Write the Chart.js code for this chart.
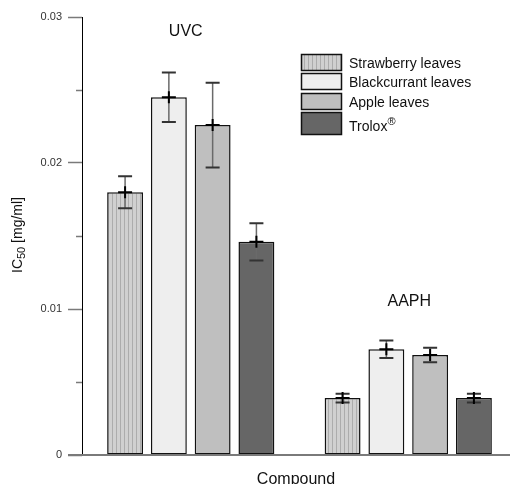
<!DOCTYPE html>
<html>
<head>
<meta charset="utf-8">
<script src="https://cdn.jsdelivr.net/npm/chart.js@4/dist/chart.umd.min.js"></script>
<style>
  html, body { margin: 0; padding: 0; background: #fff; }
  #wrap { width: 517px; height: 484px; position: relative; }
</style>
</head>
<body>
<div id="wrap"><canvas id="chart"></canvas></div>
<script>
// data
const categories = ['UVC', 'AAPH'];
const seriesNames = ['Strawberry leaves', 'Blackcurrant leaves', 'Apple leaves', 'Trolox®'];
const strawberry = [0.0180, 0.0039];
const blackcurrant = [0.0245, 0.00725];
const apple = [0.0226, 0.00685];
const trolox = [0.0146, 0.0039];
const strawberryErr = [0.0011, 0.0003];
const blackcurrantErr = [0.0017, 0.0006];
const appleErr = [0.0029, 0.0005];
const troloxErr = [0.00127, 0.0003];
const yTickLabels = ['0', '0.01', '0.02', '0.03'];

const FONT = '"Liberation Sans", Arial, sans-serif';

// striped fill for the strawberry bars
function stripes() {
  const c = document.createElement('canvas');
  c.width = 4; c.height = 1;
  const g = c.getContext('2d');
  g.fillStyle = '#d0d0d0';
  g.fillRect(0, 0, 4, 1);
  g.fillStyle = '#acacac';
  g.fillRect(0, 0, 1, 1);
  return g.createPattern(c, 'repeat');
}

const datasets = [
  { label: seriesNames[0], data: strawberry, err: strawberryErr, backgroundColor: stripes() },
  { label: seriesNames[1], data: blackcurrant, err: blackcurrantErr, backgroundColor: '#eeeeee' },
  { label: seriesNames[2], data: apple, err: appleErr, backgroundColor: '#bfbfbf' },
  { label: seriesNames[3], data: trolox, err: troloxErr, backgroundColor: '#666666' }
].map(d => Object.assign(d, {
  borderColor: '#111111',
  borderWidth: 1.5,
  borderSkipped: false,
  categoryPercentage: 0.805,
  barPercentage: 0.82
}));

const isMajor = v => Math.abs(v * 100 - Math.round(v * 100)) < 1e-6;

const extras = {
  id: 'extras',
  afterDatasetsDraw(chart) {
    const ctx = chart.ctx;
    const y = chart.scales.y;
    const x = chart.scales.x;
    ctx.save();

    // baseline (runs out past the y axis like the 0 tick)
    ctx.strokeStyle = '#7a7a7a';
    ctx.lineWidth = 2;
    ctx.beginPath();
    ctx.moveTo(68, y.getPixelForValue(0));
    ctx.lineTo(510, y.getPixelForValue(0));
    ctx.stroke();

    // minor ticks
    ctx.lineWidth = 1.5;
    for (let v = 0.005; v < 0.03; v += 0.01) {
      const py = Math.round(y.getPixelForValue(v)) + 0.5;
      ctx.beginPath();
      ctx.moveTo(76, py);
      ctx.lineTo(chart.chartArea.left, py);
      ctx.stroke();
    }

    // error bars
    chart.data.datasets.forEach((ds, i) => {
      const meta = chart.getDatasetMeta(i);
      meta.data.forEach((bar, j) => {
        const v = ds.data[j], e = ds.err[j];
        const top = y.getPixelForValue(v + e);
        const bot = y.getPixelForValue(v - e);
        const mid = y.getPixelForValue(v);
        ctx.strokeStyle = '#6a6a6a';
        ctx.lineWidth = 1.5;
        ctx.beginPath();
        ctx.moveTo(bar.x, top);
        ctx.lineTo(bar.x, bot);
        ctx.stroke();
        ctx.strokeStyle = '#333';
        ctx.lineWidth = 2;
        ctx.beginPath();
        ctx.moveTo(bar.x - 7, top); ctx.lineTo(bar.x + 7, top);
        ctx.moveTo(bar.x - 7, bot); ctx.lineTo(bar.x + 7, bot);
        ctx.stroke();
        ctx.strokeStyle = '#000';
        ctx.lineWidth = 2;
        ctx.beginPath();
        ctx.moveTo(bar.x, mid - 6); ctx.lineTo(bar.x, mid + 6);
        ctx.moveTo(bar.x - 7, mid); ctx.lineTo(bar.x + 7, mid);
        ctx.stroke();
      });
    });

    // group labels
    ctx.fillStyle = '#111';
    ctx.font = '16px ' + FONT;
    ctx.textAlign = 'center';
    ctx.textBaseline = 'alphabetic';
    ctx.fillText(categories[0], x.getPixelForValue(0) - 5, y.getPixelForValue(0.0287));
    ctx.fillText(categories[1], x.getPixelForValue(1) + 1, y.getPixelForValue(0.0102));

    // x title
    ctx.fillText('Compound', (chart.chartArea.left + 510) / 2, 484);

    // y title with subscript
    ctx.save();
    ctx.translate(22, 235);
    ctx.rotate(-Math.PI / 2);
    ctx.textAlign = 'left';
    ctx.font = '14px ' + FONT;
    const w1 = ctx.measureText('IC').width;
    const w3 = ctx.measureText(' [mg/ml]').width;
    ctx.font = '11px ' + FONT;
    const w2 = ctx.measureText('50').width;
    const sx = -(w1 + w2 + w3) / 2;
    ctx.font = '14px ' + FONT;
    ctx.fillText('IC', sx, 0);
    ctx.font = '11px ' + FONT;
    ctx.fillText('50', sx + w1, 3);
    ctx.font = '14px ' + FONT;
    ctx.fillText(' [mg/ml]', sx + w1 + w2, 0);
    ctx.restore();

    // legend
    const rows = [[54, 16], [73, 16], [93, 16], [112, 22]];
    chart.data.datasets.forEach((ds, i) => {
      const [t, h] = rows[i];
      ctx.fillStyle = ds.backgroundColor;
      ctx.fillRect(301, t, 41, h);
      ctx.strokeStyle = '#111';
      ctx.lineWidth = 1.5;
      ctx.strokeRect(301.5, t + 0.5, 40, h);
      ctx.fillStyle = '#111';
      ctx.textAlign = 'left';
      ctx.textBaseline = 'alphabetic';
      ctx.font = '14px ' + FONT;
      let label = ds.label;
      let sup = '';
      if (label.endsWith('®')) { sup = '®'; label = label.slice(0, -1); }
      const base = t + h / 2 + 5.5;
      ctx.fillText(label, 349, sup ? base + 2 : base);
      if (sup) {
        const lw = ctx.measureText(label).width;
        ctx.font = '11px ' + FONT;
        ctx.fillText(sup, 349 + lw, base - 4);
      }
    });

    ctx.restore();
  }
};

new Chart(document.getElementById('chart'), {
  type: 'bar',
  data: { labels: categories, datasets: datasets },
  plugins: [extras],
  options: {
    responsive: true,
    maintainAspectRatio: false,
    animation: false,
    layout: { padding: { top: 17, right: -3, left: 0, bottom: 0 } },
    plugins: { legend: { display: false }, tooltip: { enabled: false } },
    scales: {
      x: {
        grid: { display: false },
        border: { display: false },
        ticks: { display: false },
        afterFit: s => { s.height = 29; }
      },
      y: {
        min: 0,
        max: 0.03,
        afterFit: s => { s.width = 82; },
        border: { color: '#000', width: 1 },
        grid: {
          drawOnChartArea: false,
          tickLength: 14,
          tickWidth: 1.5,
          tickColor: c => isMajor(c.tick.value) ? '#7a7a7a' : 'rgba(0,0,0,0)'
        },
        ticks: {
          stepSize: 0.005,
          padding: 6,
          color: '#333',
          font: { family: FONT, size: 11 },
          callback: v => isMajor(v) ? yTickLabels[Math.round(v * 100)] : ''
        }
      }
    }
  }
});
</script>
</body>
</html>
